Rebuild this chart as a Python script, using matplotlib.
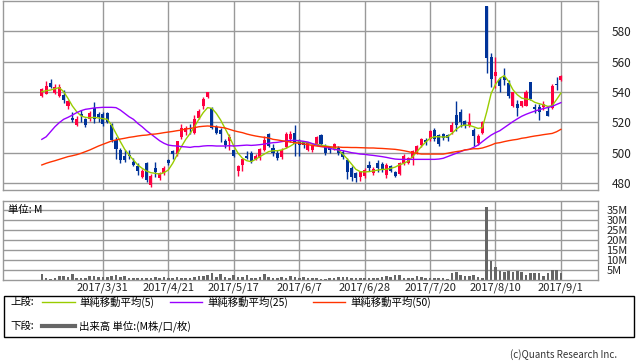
import matplotlib
matplotlib.use("Agg")
import matplotlib.pyplot as plt
from matplotlib.patches import Rectangle
from matplotlib.lines import Line2D
import numpy as np

plt.rcParams['font.family'] = ['Noto Sans CJK JP', 'DejaVu Sans']

# daily candles (index 0..119)
opens = [537.4, 539.0, 546.0, 539.6, 537.5, 538.0, 530.5, 522.7, 518.2, 525.3,
         522.0, 522.4, 529.3, 525.5, 525.3, 526.0, 518.5, 508.5, 501.5, 498.0,
         498.5, 494.0, 491.0, 484.2, 493.0, 478.7, 489.6, 483.5, 486.4, 495.0,
         501.0, 499.0, 510.5, 513.4, 516.5, 513.0, 523.0, 531.0, 536.6, 529.5,
         517.2, 515.2, 508.0, 507.5, 501.5, 488.1, 492.0, 498.0, 500.0, 496.0,
         496.5, 502.0, 512.4, 503.3, 499.8, 497.0, 503.5, 509.0, 513.3, 507.4,
         507.0, 502.0, 501.5, 505.6, 511.7, 504.5, 503.7, 502.6, 503.0, 500.4,
         495.3, 490.0, 486.8, 483.8, 484.5, 492.0, 486.6, 493.2, 492.8, 485.0,
         490.9, 487.0, 486.0, 492.9, 493.3, 496.4, 500.0, 504.8, 508.4, 509.0,
         515.2, 511.9, 512.0, 511.5, 513.6, 524.8, 527.0, 520.7, 517.8, 515.2,
         506.4, 513.0, 596.8, 562.9, 550.3, 548.0, 549.9, 546.0, 531.0, 532.3,
         531.0, 531.0, 546.4, 530.3, 530.0, 530.0, 527.3, 529.5, 545.5, 548.0]
highs = [542.5, 547.0, 548.5, 545.0, 545.3, 541.0, 535.0, 526.5, 524.0, 528.0,
         523.0, 527.5, 533.5, 527.0, 526.5, 527.0, 519.5, 510.5, 503.0, 501.5,
         502.0, 496.3, 493.0, 489.0, 494.0, 486.0, 493.6, 487.0, 491.0, 496.0,
         502.0, 508.0, 518.8, 517.4, 519.0, 525.0, 529.0, 536.5, 540.0, 530.0,
         518.0, 516.0, 509.0, 512.0, 502.0, 492.0, 496.0, 501.0, 501.0, 499.0,
         503.0, 511.3, 513.0, 506.0, 501.5, 503.0, 513.5, 514.0, 518.5, 509.0,
         508.0, 507.0, 506.0, 511.0, 512.4, 505.5, 504.0, 506.5, 504.5, 501.5,
         496.5, 491.0, 487.5, 488.0, 490.0, 494.3, 490.5, 495.0, 494.0, 493.0,
         492.0, 488.0, 494.0, 499.0, 497.0, 501.5, 505.0, 510.0, 509.5, 515.0,
         516.0, 512.5, 513.0, 512.0, 520.0, 533.8, 529.0, 521.5, 526.0, 516.0,
         512.5, 521.0, 596.8, 565.7, 562.9, 549.7, 555.8, 548.0, 540.0, 535.0,
         534.0, 541.5, 546.4, 532.3, 532.3, 533.8, 531.0, 545.0, 549.7, 551.5]
lows = [537.0, 538.5, 542.5, 539.0, 537.0, 533.0, 529.0, 520.4, 517.5, 520.5,
        517.0, 521.0, 519.5, 520.0, 517.5, 519.5, 507.0, 496.0, 493.0, 494.0,
        496.0, 491.0, 485.0, 483.0, 480.5, 477.5, 484.0, 482.0, 485.0, 492.0,
        496.0, 498.0, 509.0, 511.7, 512.0, 512.0, 522.0, 529.0, 536.0, 515.5,
        512.0, 507.0, 503.0, 501.5, 497.0, 484.5, 488.0, 496.0, 493.0, 495.0,
        495.5, 501.0, 503.5, 498.0, 495.0, 496.0, 503.0, 507.0, 497.8, 497.6,
        503.0, 501.0, 500.5, 505.0, 504.5, 498.5, 500.0, 502.0, 498.5, 496.0,
        482.5, 481.5, 481.0, 481.5, 483.0, 488.0, 485.5, 487.0, 487.5, 483.0,
        487.0, 484.0, 485.0, 492.0, 492.5, 492.0, 499.0, 503.5, 505.0, 508.0,
        508.0, 504.5, 508.5, 508.0, 512.5, 514.0, 517.0, 516.0, 517.0, 504.6,
        505.0, 512.5, 552.7, 543.3, 542.6, 539.8, 544.8, 536.0, 530.0, 524.4,
        530.0, 530.5, 535.0, 526.0, 521.3, 528.0, 524.0, 528.8, 541.5, 547.5]
closes = [541.8, 544.0, 543.5, 543.0, 543.0, 534.5, 534.0, 521.6, 522.2, 524.2,
          518.3, 526.4, 522.0, 523.8, 518.7, 520.5, 508.5, 502.7, 495.5, 495.5,
          497.5, 492.0, 488.0, 488.1, 482.0, 484.8, 487.0, 486.4, 490.0, 493.0,
          499.0, 507.5, 516.5, 516.5, 515.5, 522.5, 527.3, 535.5, 539.7, 516.5,
          513.0, 512.0, 505.3, 510.3, 497.6, 491.0, 495.7, 496.5, 494.4, 497.5,
          502.5, 508.5, 504.5, 499.8, 496.8, 501.9, 512.6, 512.6, 506.0, 505.2,
          505.2, 506.3, 505.2, 510.2, 505.5, 499.5, 502.0, 505.6, 499.8, 497.2,
          487.0, 483.8, 483.2, 487.3, 488.8, 490.2, 489.5, 489.7, 489.0, 492.1,
          488.2, 484.6, 493.2, 497.8, 496.5, 500.8, 504.2, 509.0, 506.8, 514.5,
          509.0, 505.5, 509.7, 510.0, 518.5, 518.5, 520.0, 518.5, 520.2, 510.8,
          511.2, 520.0, 562.4, 548.6, 553.0, 543.7, 548.0, 537.1, 539.8, 529.5,
          533.8, 539.8, 535.4, 528.8, 526.6, 532.3, 524.4, 544.2, 544.8, 550.8]

ma5 = [540.2, 540.9, 541.3, 542.2, 542.9, 540.2, 535.8, 530.8, 527.0, 524.2,
       523.3, 523.0, 523.3, 522.9, 522.4, 522.0, 518.2, 512.7, 507.3, 502.2,
       498.5, 495.2, 491.9, 489.7, 487.9, 486.8, 486.4, 485.9, 486.8, 488.6,
       493.0, 498.5, 504.0, 508.8, 512.7, 517.1, 522.0, 526.4, 529.7, 529.2,
       525.9, 521.5, 516.0, 510.5, 504.4, 499.6, 496.3, 494.7, 494.1, 495.6,
       497.4, 499.1, 500.7, 501.3, 501.3, 501.8, 502.9, 504.4, 506.2, 507.3,
       507.0, 506.6, 505.7, 505.5, 505.0, 504.5, 504.0, 503.0, 501.8, 499.0,
       496.0, 492.5, 489.0, 487.5, 487.3, 487.5, 488.0, 488.5, 489.0, 489.0,
       489.7, 490.5, 492.0, 493.0, 494.5, 497.4, 500.7, 504.0, 507.0, 509.5,
       510.5, 510.5, 510.3, 510.5, 512.7, 515.4, 517.6, 518.2, 518.0, 517.1,
       516.0, 516.5, 527.0, 539.0, 545.0, 549.0, 550.8, 547.0, 541.5, 538.2,
       536.0, 535.4, 535.0, 533.2, 532.3, 531.6, 530.5, 531.0, 535.0, 539.3]
ma25 = [508.8, 510.5, 513.8, 517.1, 519.8, 522.0, 523.3, 524.8, 526.4, 527.7,
        528.6, 529.0, 529.5, 529.7, 529.9, 529.9, 529.9, 529.7, 528.1, 525.9,
        523.7, 522.0, 519.3, 517.1, 514.5, 512.3, 510.1, 507.9, 506.2, 505.0,
        504.6, 504.4, 504.0, 503.8, 503.5, 504.0, 504.0, 504.4, 504.6, 504.6,
        504.4, 504.4, 504.4, 504.6, 504.4, 504.6, 504.8, 505.0, 504.8, 505.0,
        505.3, 505.7, 506.2, 506.6, 506.8, 507.3, 507.7, 508.1, 508.1, 507.9,
        507.5, 507.0, 506.0, 505.0, 504.2, 503.6, 502.9, 502.2, 501.8, 501.3,
        500.7, 500.0, 499.6, 499.1, 498.9, 498.5, 498.2, 497.8, 497.4, 496.9,
        496.3, 495.8, 495.6, 495.6, 495.6, 495.6, 495.6, 495.6, 495.6, 495.6,
        495.6, 495.8, 496.3, 497.4, 498.5, 499.6, 500.7, 501.8, 502.2, 503.5,
        505.0, 507.3, 509.5, 511.6, 513.2, 514.5, 516.5, 518.5, 520.5, 522.3,
        524.0, 525.3, 526.4, 527.4, 528.3, 529.1, 529.8, 530.5, 531.8, 533.0]
ma50 = [491.9, 493.0, 493.9, 494.7, 495.6, 496.5, 497.4, 498.0, 498.7, 499.6,
        500.7, 501.8, 503.1, 504.4, 505.5, 506.6, 507.7, 508.4, 509.0, 509.5,
        510.1, 510.5, 511.0, 511.4, 511.6, 512.1, 512.3, 512.7, 513.2, 513.6,
        514.0, 514.5, 514.9, 515.6, 516.0, 516.5, 517.1, 517.4, 517.6, 517.4,
        517.1, 516.7, 516.3, 515.4, 514.5, 513.8, 513.2, 512.3, 511.6, 511.0,
        510.5, 510.1, 509.7, 508.8, 508.4, 507.9, 507.5, 507.0, 506.6, 506.2,
        505.7, 505.3, 504.8, 504.4, 504.0, 504.0, 503.8, 503.7, 503.7, 503.5,
        503.5, 503.4, 503.4, 503.3, 503.2, 503.1, 503.1, 502.9, 502.8, 502.6,
        502.4, 502.2, 501.8, 501.3, 500.7, 500.0, 499.6, 499.1, 499.1, 499.1,
        499.1, 499.1, 499.1, 499.6, 500.2, 500.7, 501.1, 501.8, 502.2, 502.6,
        502.6, 503.1, 504.0, 505.0, 506.2, 506.6, 507.3, 507.9, 508.4, 508.8,
        509.5, 509.9, 510.5, 511.0, 511.4, 511.9, 512.3, 512.7, 513.8, 515.4]

# volume in millions
volume = [3.0, 0.8, 0.5, 0.8, 2.0, 2.2, 1.7, 2.8, 1.2, 1.2,
          1.2, 2.0, 2.0, 1.7, 1.7, 1.7, 2.2, 2.5, 1.7, 2.0,
          1.2, 1.2, 1.2, 1.2, 1.2, 1.2, 1.3, 1.2, 1.5, 0.8,
          1.2, 1.7, 0.8, 0.8, 1.2, 1.7, 2.0, 2.0, 2.5, 3.3,
          1.7, 2.8, 1.7, 1.2, 2.5, 1.7, 1.7, 2.5, 1.2, 1.2,
          1.3, 2.8, 1.7, 1.2, 1.2, 1.5, 1.2, 2.0, 1.7, 1.2,
          1.3, 0.8, 1.2, 0.8, 0.4, 0.5, 0.8, 1.2, 1.5, 1.3,
          1.5, 1.2, 1.0, 1.0, 0.8, 0.8, 0.8, 1.0, 1.7, 2.0,
          1.7, 2.5, 2.5, 1.2, 1.2, 1.2, 2.0, 1.7, 1.2, 1.2,
          1.0, 0.8, 1.0, 0.7, 3.7, 4.2, 2.5, 2.2, 1.8, 2.5,
          1.5, 1.2, 36.5, 9.5, 6.5, 4.5, 4.2, 4.5, 4.2, 4.5,
          3.8, 2.5, 3.3, 3.3, 3.3, 2.2, 3.3, 5.0, 5.0, 3.7]

date_pos = [14, 29, 44, 59, 74, 89, 104, 119]
date_labels = ['2017/3/31', '2017/4/21', '2017/5/17', '2017/6/7',
               '2017/6/28', '2017/7/20', '2017/8/10', '2017/9/1']
price_ticks = [480, 500, 520, 540, 560, 580]
vol_ticks = [5, 10, 15, 20, 25, 30, 35]

UP = '#FF0040'
DOWN = '#003399'
GRID = '#999999'

W, H = 638, 362
fig = plt.figure(figsize=(W / 100, H / 100), dpi=100)
ax = fig.add_axes([3 / W, 1 - 190 / H, 595 / W, 189 / H])
axv = fig.add_axes([3 / W, 1 - 280 / H, 595 / W, 79 / H])

x = np.arange(len(closes))
o = np.array(opens)
c = np.array(closes)
up = c >= o
colors = np.where(up, UP, DOWN)
body_lo = np.minimum(o, c)
body_h = np.maximum(np.abs(c - o), 0.6)

ax.vlines(x, lows, highs, colors=colors, lw=1, zorder=2)
ax.bar(x, body_h, bottom=body_lo, width=0.7, color=colors, linewidth=0, zorder=2)
ax.plot(x, ma5, color='#99CC00', lw=1, zorder=3)
ax.plot(x, ma25, color='#9900FF', lw=1, zorder=3)
ax.plot(x, ma50, color='#FF3300', lw=1, zorder=3)

xlim = (-8.9, 127.5)
for a in (ax, axv):
    a.set_xlim(*xlim)
    for s in a.spines.values():
        s.set_color(GRID)
        s.set_linewidth(1)
    a.yaxis.tick_right()
    a.set_xticks(date_pos)
    a.grid(True, color=GRID, lw=1, zorder=0)
    a.set_axisbelow(True)
    a.tick_params(length=0, labelsize=8, colors='#222222')

ax.set_ylim(475.4, 600)
ax.set_yticks(price_ticks)
ax.set_yticklabels([str(v) for v in price_ticks])
ax.tick_params(axis='y', pad=10, labelsize=8.5)
ax.set_xticklabels([])

axv.bar(x, volume, width=0.6, color='#666666', linewidth=0, zorder=2)
axv.set_ylim(0, 39.5)
axv.set_yticks(vol_ticks)
axv.set_yticklabels(['%dM' % v for v in vol_ticks])
axv.tick_params(axis='y', pad=6, labelsize=8)
axv.set_xticklabels(date_labels)
axv.tick_params(axis='x', pad=2, labelsize=8)

fig.text(8 / W, 1 - 210 / H, '単位: M', fontsize=7.5, va='center', ha='left')

# legend box
fig.add_artist(Rectangle((4 / W, 1 - 337 / H), 630 / W, 41 / H, transform=fig.transFigure,
                         fill=False, edgecolor='black', lw=1))

def fx(px):
    return px / W

def fy(py):
    return 1 - py / H

y1, y2 = 302, 326
fig.text(fx(10), fy(y1), '上段:', fontsize=7.5, va='center')
items = [(42, 75, 79, '#99CC00', '単純移動平均(5)'),
         (170, 202, 207, '#9900FF', '単純移動平均(25)'),
         (313, 345, 350, '#FF3300', '単純移動平均(50)')]
for x0, x1, xt, col, lab in items:
    fig.add_artist(Line2D([fx(x0), fx(x1)], [fy(y1), fy(y1)], color=col, lw=1,
                          transform=fig.transFigure))
    fig.text(fx(xt), fy(y1), lab, fontsize=7.5, va='center')

fig.text(fx(10), fy(y2), '下段:', fontsize=7.5, va='center')
fig.add_artist(Line2D([fx(42), fx(75)], [fy(y2), fy(y2)], color='#666666', lw=3,
                      transform=fig.transFigure))
fig.text(fx(79), fy(y2), '出来高 単位:(M株/口/枚)', fontsize=7.5, va='center')

fig.text(fx(617), fy(355), '(c)Quants Research Inc.', fontsize=7, va='center', ha='right',
         color='#333333')

fig.savefig('out.png', dpi=100)
